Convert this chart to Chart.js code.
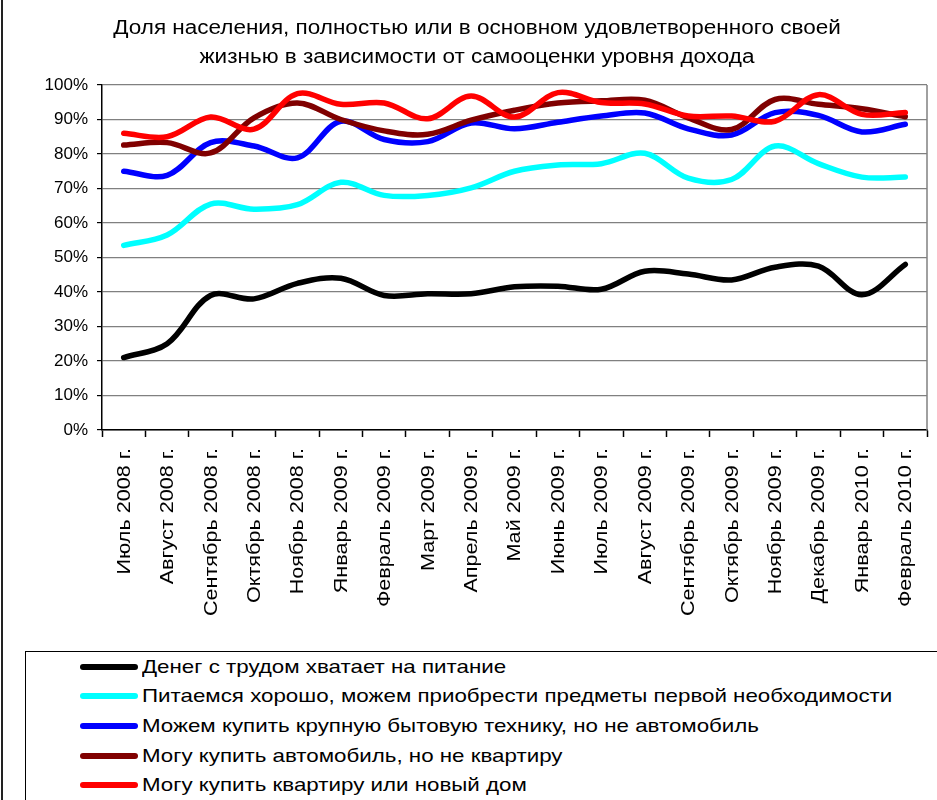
<!DOCTYPE html>
<html><head><meta charset="utf-8">
<script src="https://cdn.jsdelivr.net/npm/chart.js@4.4.0/dist/chart.umd.min.js"></script>
<style>
html,body{margin:0;padding:0;background:#fff;}
#wrap{position:relative;width:937px;height:800px;overflow:hidden;font-family:"Liberation Sans",Arial,sans-serif;background:#fff;}
#cv{position:absolute;left:0;top:0;}
#frame{position:absolute;left:1px;top:0;width:0;height:800px;border-left:2px solid #222;}
#legend{position:absolute;left:25px;top:651px;width:940px;height:170px;border:1.5px solid #000;box-sizing:border-box;}
.item{position:absolute;left:54px;height:24px;display:flex;align-items:center;font-size:19px;color:#000;white-space:nowrap;}
.swatch{width:58px;height:6px;border-radius:3px;margin-right:4px;flex:none;}
.txt{display:inline-block;transform:scaleX(1.175);transform-origin:0 50%;}
</style></head>
<body>
<div id="wrap">
<canvas id="cv" width="937" height="645"></canvas>
<div id="frame"></div>
<div id="legend"></div>
</div>
<script>
const titleLines = ["Доля населения, полностью или в основном удовлетворенного своей", "жизнью в зависимости от самооценки уровня дохода"];
const categories = ["Июль 2008 г.","Август 2008 г.","Сентябрь 2008 г.","Октябрь 2008 г.","Ноябрь 2008 г.","Январь 2009 г.","Февраль 2009 г.","Март 2009 г.","Апрель 2009 г.","Май 2009 г.","Июнь 2009 г.","Июль 2009 г.","Август 2009 г.","Сентябрь 2009 г.","Октябрь 2009 г.","Ноябрь 2009 г.","Декабрь 2009 г.","Январь 2010 г.","Февраль 2010 г."];
const seriesNames = ["Денег с трудом хватает на питание","Питаемся хорошо, можем приобрести предметы первой необходимости","Можем купить крупную бытовую технику, но не автомобиль","Могу купить автомобиль, но не квартиру","Могу купить квартиру или новый дом"];
const foodOnly   = [21, 25, 39, 38, 42.5, 44, 39, 39.5, 39.5, 41.5, 41.7, 40.8, 46, 45.2, 43.5, 47.2, 47.5, 39.2, 48];
const eatWell    = [53.5, 56.5, 65.5, 64, 65.3, 71.8, 68, 68, 70.2, 75, 76.8, 77.2, 80.2, 73, 72.6, 82.3, 77.2, 73.3, 73.3];
const appliances = [75, 73.8, 83.3, 82.3, 78.9, 89.5, 84.2, 83.6, 89, 87.3, 89.2, 91, 91.9, 87.3, 85.5, 92, 91.2, 86.4, 88.6];
const car        = [82.6, 83.3, 80.3, 90.5, 94.8, 90, 86.7, 85.7, 89.8, 92.7, 94.8, 95.4, 95.6, 90.5, 87.1, 95.8, 94.4, 93.1, 90.8];
const flat       = [86, 85, 90.7, 87.2, 97.5, 94.4, 94.8, 90.2, 96.8, 90.7, 97.8, 94.9, 94.5, 91, 91, 89.5, 97.2, 91.5, 92];
const yTicks = [0,10,20,30,40,50,60,70,80,90,100];
const colors = ["#000000","#00FFFF","#0000FF","#800000","#FF0000"];
const allSeries = [foodOnly, eatWell, appliances, car, flat];

const FONT = '"Liberation Sans", Arial, sans-serif';
Chart.defaults.font.family = FONT;
Chart.defaults.color = '#000';

const deco = {
  id: 'deco',
  beforeDraw(chart){
    const c = chart.ctx; c.save(); c.fillStyle = '#fff'; c.fillRect(0,0,chart.width,chart.height); c.restore();
  },
  beforeDatasetsDraw(chart){
    const {ctx, chartArea:a} = chart;
    ctx.save(); ctx.strokeStyle = '#808080'; ctx.lineWidth = 1.5;
    ctx.beginPath(); ctx.moveTo(a.right, a.top); ctx.lineTo(a.right, a.bottom); ctx.stroke();
    ctx.restore();
  },
  afterDraw(chart){
    const ctx = chart.ctx;
    // title
    ctx.save();
    ctx.fillStyle = '#000'; ctx.font = '20px ' + FONT;
    ctx.textAlign = 'center'; ctx.textBaseline = 'middle';
    [[titleLines[0], 28], [titleLines[1], 57]].forEach(([t, y]) => {
      ctx.save(); ctx.translate(477, y); ctx.scale(1.125, 1); ctx.fillText(t, 0, 0); ctx.restore();
    });
    ctx.restore();
    // category labels placed at the x scale's tick positions
    const xs = chart.scales.x;
    ctx.save();
    ctx.fillStyle = '#000'; ctx.font = '18px ' + FONT;
    ctx.textAlign = 'right'; ctx.textBaseline = 'middle';
    categories.forEach((lab, i) => {
      const x = xs.getPixelForTick(i);
      ctx.save(); ctx.translate(x + 1, xs.top + 18); ctx.rotate(-Math.PI / 2); ctx.scale(1.2, 1);
      ctx.fillText(lab, 0, 0); ctx.restore();
    });
    ctx.restore();
  }
};

const datasets = allSeries.map((d,i)=>({
  label: seriesNames[i], data: d, borderColor: colors[i], backgroundColor: colors[i],
  borderWidth: 5.5, pointRadius: 0, tension: 0.35, fill: false,
  borderCapStyle: 'round', borderJoinStyle: 'round', order: 5 - i
}));

new Chart(document.getElementById('cv'), {
  type: 'line',
  data: { labels: categories, datasets },
  plugins: [deco],
  options: {
    responsive: false, animation: false,
    layout: { padding: { left: 0, right: 10, top: 85, bottom: 0 } },
    plugins: { legend: { display: false }, title: { display: false }, tooltip: { enabled: false } },
    scales: {
      x: {
        type: 'category', offset: true,
        grid: { offset: true, drawOnChartArea: false, drawTicks: true, tickLength: 7, tickColor: '#000', tickWidth: 1.5 },
        border: { color: '#000', width: 1.5 },
        ticks: { display: false, autoSkip: false },
        afterFit(s){ s.height = 215; }
      },
      y: {
        min: 0, max: 100,
        afterBuildTicks(s){ s.ticks = yTicks.map(v=>({value:v})); },
        grid: { color: '#808080', lineWidth: 1.2, tickLength: 5, tickColor: '#000' },
        border: { color: '#000', width: 1.5 },
        ticks: { padding: 9, font: { size: 17 }, color: '#000', callback: v => v + '%' },
        afterFit(s){ s.width = 102; }
      }
    }
  }
});

const lg = document.getElementById('legend');
const rowTops = [3, 32, 62, 92, 121];
seriesNames.forEach((n,i)=>{
  const it = document.createElement('div'); it.className = 'item'; it.style.top = rowTops[i] + 'px';
  const sw = document.createElement('span'); sw.className = 'swatch'; sw.style.background = colors[i];
  const tx = document.createElement('span'); tx.className = 'txt'; tx.textContent = n;
  it.appendChild(sw); it.appendChild(tx); lg.appendChild(it);
});
</script>
</body></html>
